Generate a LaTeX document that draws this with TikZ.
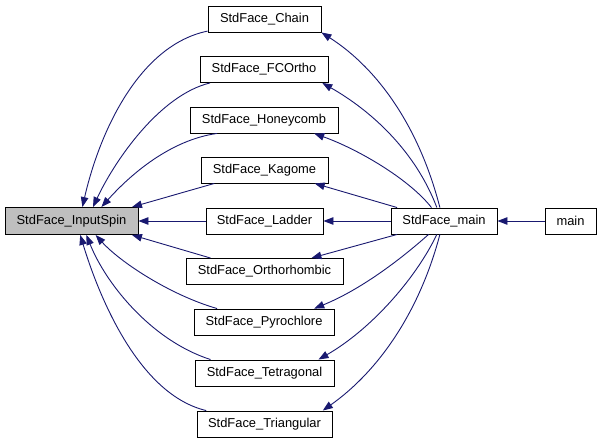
\documentclass[tikz,border=0pt]{standalone}
\usepackage{fontspec}
\setmainfont{Liberation Sans}
\usetikzlibrary{arrows.meta}
\definecolor{edgeblue}{RGB}{25,25,112}
\definecolor{nodegray}{RGB}{191,191,191}
\begin{document}
\begin{tikzpicture}[x=1pt,y=-1pt,
  fn/.style={draw=black,line width=0.9pt,fill=white,minimum height=26pt,inner sep=0pt,
    font=\fontsize{12.9}{15}\selectfont},
  edge/.style={draw=edgeblue,line width=0.9pt,-{Triangle[length=10pt,width=7.5pt]}}]
\useasboundingbox (0,0) rectangle (601,443);
\node[fn,fill=nodegray,minimum width=133pt,minimum height=27pt] (inputspin) at (71.5,221) {StdFace\_InputSpin};
\node[fn,minimum width=113pt] (chain) at (264.5,19) {StdFace\_Chain};
\node[fn,minimum width=128pt] (fcortho) at (264,69.5) {StdFace\_FCOrtho};
\node[fn,minimum width=148pt] (honeycomb) at (264,120) {StdFace\_Honeycomb};
\node[fn,minimum width=127pt] (kagome) at (264.5,170) {StdFace\_Kagome};
\node[fn,minimum width=117pt] (ladder) at (264.5,221) {StdFace\_Ladder};
\node[fn,minimum width=157pt] (ortho) at (264.5,271.5) {StdFace\_Orthorhombic};
\node[fn,minimum width=140pt] (pyro) at (264,322) {StdFace\_Pyrochlore};
\node[fn,minimum width=139pt] (tetra) at (264.5,373) {StdFace\_Tetragonal};
\node[fn,minimum width=135pt] (tri) at (264.5,424) {StdFace\_Triangular};
\node[fn,minimum width=106pt] (stdmain) at (444,221) {StdFace\_main};
\node[fn,minimum width=51pt] (main) at (570.5,221) {main};
% edges into InputSpin
\draw[edge] (chain.192) .. controls (140,45) and (100,130) .. (inputspin.52);
\draw[edge] (fcortho.194) .. controls (160,95) and (115,160) .. (inputspin.33);
\draw[edge] (honeycomb.196) .. controls (170,140) and (130,175) .. (inputspin.25);
\draw[edge] (kagome.195) -- (inputspin.13);
\draw[edge] (ladder.west) -- (inputspin.east);
\draw[edge] (ortho.166) -- (inputspin.-13);
\draw[edge] (pyro.164) .. controls (170,295) and (120,262) .. (inputspin.-30);
\draw[edge] (tetra.166) .. controls (150,340) and (105,282) .. (inputspin.-43);
\draw[edge] (tri.167) .. controls (140,395) and (100,300) .. (inputspin.-58);
% edges from StdFace_main
\draw[edge] (stdmain.107) .. controls (420,130) and (380,70) .. (chain.south east);
\draw[edge] (stdmain.118) .. controls (415,150) and (370,110) .. (fcortho.-13.5);
\draw[edge] (stdmain.133) .. controls (410,180) and (360,150) .. (honeycomb.-15);
\draw[edge] (stdmain.164) -- (kagome.-15);
\draw[edge] (stdmain.west) -- (ladder.east);
\draw[edge] (stdmain.196) -- (ortho.16);
\draw[edge] (stdmain.221) .. controls (400,260) and (360,290) .. (pyro.15);
\draw[edge] (stdmain.242) .. controls (415,280) and (370,330) .. (tetra.14);
\draw[edge] (stdmain.253) .. controls (420,310) and (380,370) .. (tri.13);
\draw[edge] (main.west) -- (stdmain.east);
\end{tikzpicture}
\end{document}
